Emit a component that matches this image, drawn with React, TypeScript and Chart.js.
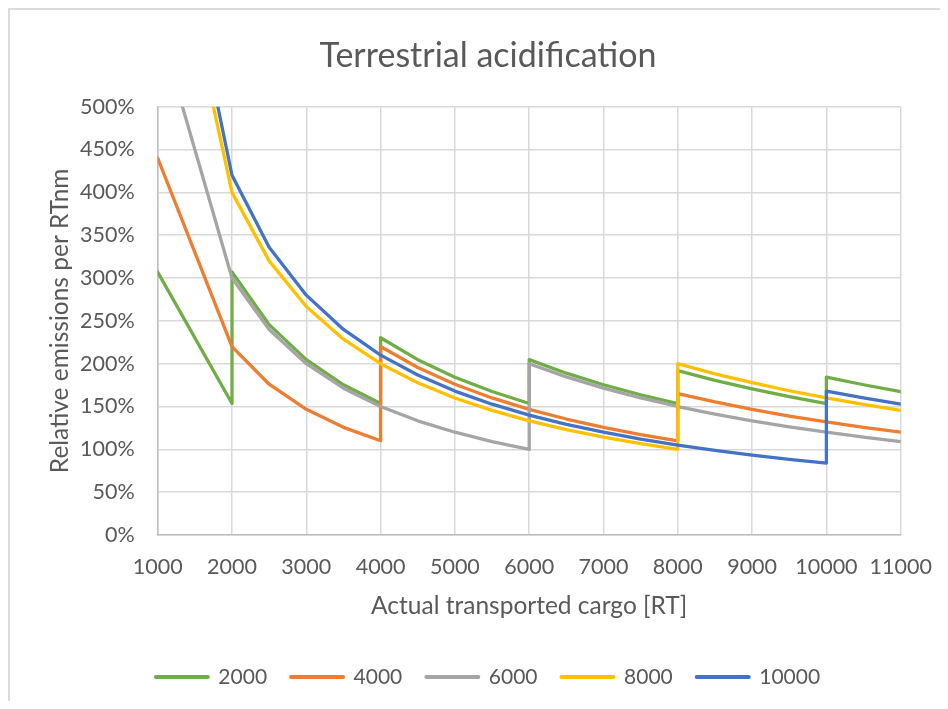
import React, { useEffect, useRef } from 'react';
import { Chart, registerables } from 'chart.js';

Chart.register(...registerables);

// ---- Data ----
const cargo = [1000, 2000, 2500, 3000, 3500, 4000, 4500, 5000, 5500, 6000, 6500, 7000, 7500, 8000, 8500, 9000, 9500, 10000, 10500, 11000];

const seriesNames = ['2000', '4000', '6000', '8000', '10000'];
const seriesColors = ['#70AD47', '#ED7D31', '#A5A5A5', '#FFC000', '#4472C4'];

// values at each cargo step (value reached just before a vessel is added)
const s2000 = [307, 153.5, 245.6, 204.7, 175.4, 153.5, 204.7, 184.2, 167.5, 153.5, 188.9, 175.4, 163.7, 153.5, 180.6, 170.6, 161.6, 153.5, 175.4, 167.5];
const s4000 = [440, 220, 176, 146.7, 125.7, 110, 195.6, 176, 160, 146.7, 135.4, 125.7, 117.3, 110, 155.3, 146.7, 138.9, 132, 125.7, 120];
const s6000 = [600, 300, 240, 200, 171.4, 150, 133.3, 120, 109.1, 100, 184.6, 171.4, 160, 150, 141.2, 133.3, 126.3, 120, 114.3, 109.1];
const s8000 = [800, 400, 320, 266.7, 228.6, 200, 177.8, 160, 145.5, 133.3, 123.1, 114.3, 106.7, 100, 188.2, 177.8, 168.4, 160, 152.4, 145.5];
const s10000 = [840, 420, 336, 280, 240, 210, 186.7, 168, 152.7, 140, 129.2, 120, 112, 105, 98.8, 93.3, 88.4, 84, 160, 152.7];

// vertical jumps: [cargo, value right after the jump]
const j2000 = [[2000, 307], [4000, 230.3], [6000, 204.7], [8000, 191.9], [10000, 184.2]];
const j4000 = [[4000, 220], [8000, 165]];
const j6000 = [[6000, 200]];
const j8000 = [[8000, 200]];
const j10000 = [[10000, 168]];

const seriesValues = [s2000, s4000, s6000, s8000, s10000];
const seriesJumps = [j2000, j4000, j6000, j8000, j10000];

const chartTitle = 'Terrestrial acidification';
const xTitle = 'Actual transported cargo [RT]';
const yTitle = 'Relative emissions per RTnm';

function buildPoints(values: number[], jumps: number[][]) {
  const pts: { x: number; y: number }[] = [];
  cargo.forEach((x, i) => {
    pts.push({ x, y: values[i] });
    const j = jumps.find((jj) => jj[0] === x);
    if (j) pts.push({ x, y: j[1] });
  });
  return pts;
}

const FONT = 'Lato, "Liberation Sans", sans-serif';
const TEXT = '#595959';

export default function App() {
  const ref = useRef<HTMLCanvasElement | null>(null);

  useEffect(() => {
    if (!ref.current) return;
    Chart.defaults.font.family = FONT;
    Chart.defaults.color = TEXT;

    const datasets = seriesNames.map((name, i) => ({
      label: name,
      data: buildPoints(seriesValues[i], seriesJumps[i]),
      borderColor: seriesColors[i],
      backgroundColor: seriesColors[i],
      borderWidth: 3.3,
      borderCapStyle: 'round' as const,
      borderJoinStyle: 'round' as const,
      pointRadius: 0,
      pointHoverRadius: 0,
      tension: 0,
      fill: false,
      order: seriesNames.length - i,
    }));

    const chart = new Chart(ref.current, {
      type: 'line',
      data: { datasets },
      options: {
        animation: false,
        responsive: false,
        maintainAspectRatio: false,
        layout: { padding: { left: 0, right: 0, top: 0, bottom: 3.5 } },
        plugins: {
          title: {
            display: true,
            text: chartTitle,
            color: TEXT,
            font: { family: FONT, size: 34, weight: 'normal' },
            padding: { top: 25.6, bottom: 30.3 },
          },
          legend: {
            position: 'bottom',
            labels: {
              usePointStyle: true,
              pointStyle: 'line',
              pointStyleWidth: 52,
              padding: 24,
              color: TEXT,
              font: { family: FONT, size: 21 },
              sort: (a: any, b: any) => a.datasetIndex - b.datasetIndex,
              generateLabels: (c: any) => {
                const items = (Chart.defaults.plugins.legend.labels as any).generateLabels(c);
                items.forEach((it: any) => {
                  it.lineWidth = 4;
                  it.lineCap = 'round';
                });
                return items;
              },
            },
          },
          tooltip: { enabled: false },
        },
        scales: {
          x: {
            type: 'linear',
            min: 1000,
            max: 11000,
            afterFit: (s: any) => {
              s.height = 107.5;
              s.paddingRight = 65.3;
            },
            ticks: {
              stepSize: 1000,
              padding: 19.4,
              color: TEXT,
              font: { family: FONT, size: 21.5 },
              maxRotation: 0,
              callback: (v: any) => String(v),
            },
            grid: { color: '#d9d9d9', lineWidth: 1.5, drawTicks: false },
            border: { color: '#bfbfbf', width: 1.5 },
            title: {
              display: true,
              text: xTitle,
              color: TEXT,
              font: { family: FONT, size: 24.5 },
              padding: { top: 0, bottom: 21.8 },
            },
          },
          y: {
            type: 'linear',
            min: 0,
            max: 500,
            afterFit: (s: any) => {
              s.width = 147.7;
            },
            ticks: {
              stepSize: 50,
              padding: 23,
              color: TEXT,
              font: { family: FONT, size: 21.5 },
              callback: (v: any) => v + '%',
            },
            grid: { color: '#d9d9d9', lineWidth: 1.5, drawTicks: false },
            border: { color: '#bfbfbf', width: 1.5 },
            title: {
              display: true,
              text: yTitle,
              color: TEXT,
              font: { family: FONT, size: 24.5 },
              padding: { top: 35.6, bottom: 0 },
            },
          },
        },
      } as any,
    });

    return () => chart.destroy();
  }, []);

  return (
    <div
      style={{
        width: 938,
        height: 691,
        borderLeft: '2px solid #dcdcdc',
        borderTop: '2px solid #dcdcdc',
        overflow: 'hidden',
        background: '#ffffff',
      }}
    >
      <canvas ref={ref} width={956} height={691} style={{ width: 956, height: 691, display: 'block' }} />
    </div>
  );
}
